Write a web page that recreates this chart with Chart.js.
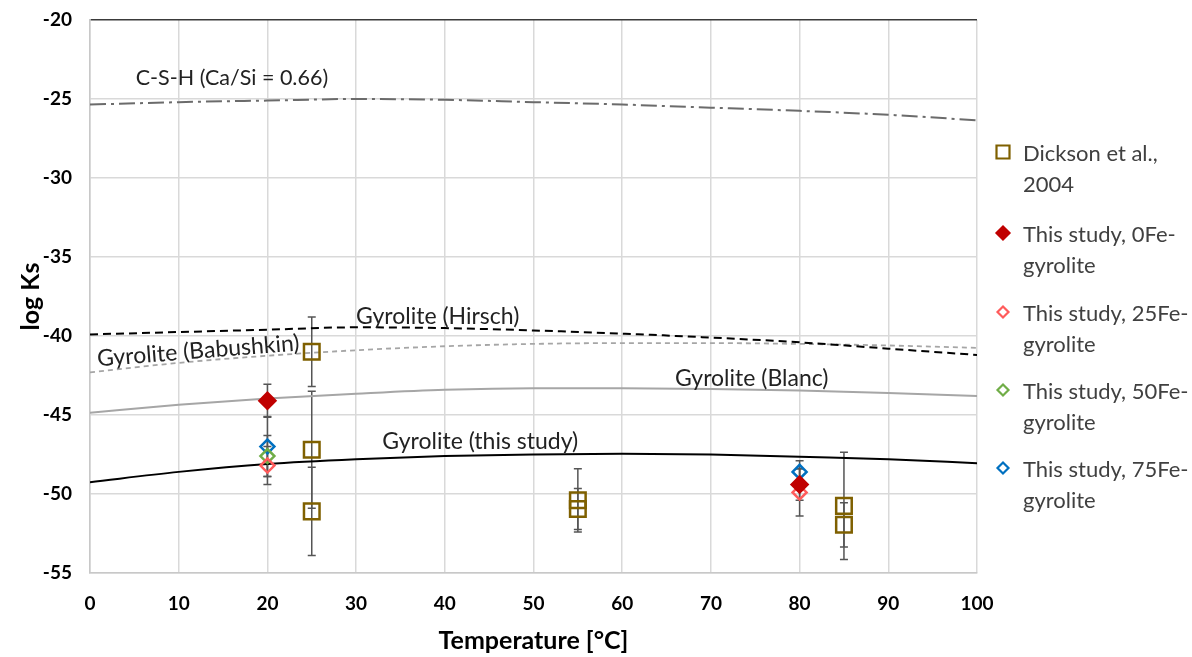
<!DOCTYPE html>
<html><head><meta charset="utf-8">
<script src="https://cdn.jsdelivr.net/npm/chart.js@4"></script>
<style>
html,body{margin:0;padding:0;background:#fff;}
#wrap{position:relative;width:1192px;height:657px;}
#legend{position:absolute;left:0;top:0;width:1192px;height:657px;pointer-events:none;font-family:Lato,"Open Sans",sans-serif;font-size:22px;color:#404040;}
.item{position:absolute;left:1023px;line-height:31px;white-space:nowrap;}
.mk{position:absolute;}
</style></head>
<body><div id="wrap"><canvas id="c" width="1192" height="657"></canvas><div id="legend"></div></div>
<script>
// ---- data ----
const lineT = [0,10,20,30,40,50,60,70,80,90,100];
const cshLogK = [-25.35,-25.2,-25.1,-25.0,-25.05,-25.2,-25.35,-25.55,-25.75,-26.0,-26.35];
const hirschLogK = [-39.9,-39.75,-39.6,-39.45,-39.5,-39.65,-39.85,-40.1,-40.4,-40.8,-41.2];
const babushkinLogK = [-42.3,-41.7,-41.25,-40.9,-40.65,-40.5,-40.45,-40.45,-40.5,-40.6,-40.75];
const blancLogK = [-44.85,-44.35,-43.95,-43.65,-43.4,-43.3,-43.3,-43.35,-43.45,-43.6,-43.8];
const thisStudyLogK = [-49.25,-48.6,-48.1,-47.8,-47.6,-47.5,-47.45,-47.5,-47.65,-47.8,-48.05];

const dicksonT = [25,25,25,55,55,85,85];
const dicksonLogK = [-41.0,-47.2,-51.1,-50.4,-50.95,-50.75,-51.95];
const dicksonErr = [2.2,3.7,2.8,2.0,1.3,3.4,1.4];

const fe0T = [20,80];   const fe0LogK = [-44.1,-49.4];  const fe0Err = [1.05,1.0];
const fe25T = [20,80];  const fe25LogK = [-48.2,-49.9]; const fe25Err = [1.2,1.5];
const fe50T = [20];     const fe50LogK = [-47.6];       const fe50Err = [1.3];
const fe75T = [20,80];  const fe75LogK = [-47.0,-48.6]; const fe75Err = [1.9,0.7];

const xTicks = [0,10,20,30,40,50,60,70,80,90,100];
const yTicks = [-55,-50,-45,-40,-35,-30,-25,-20];

// curve labels [text, T, logK, rotationDeg]
const curveLabels = [
  ["C-S-H (Ca/Si = 0.66)", 16, -23.65, 0],
  ["Gyrolite (Hirsch)", 39.2, -38.8, 0],
  ["Gyrolite (Babushkin)", 12.2, -40.95, -4.5],
  ["Gyrolite (Blanc)", 74.6, -42.7, 0],
  ["Gyrolite (this study)", 44.0, -46.7, 0]
];
const labelFontSizes = [21.5, 23, 23, 23, 23];
const legendNames = ["Dickson et al.,\n2004","This study, 0Fe-\ngyrolite","This study, 25Fe-\ngyrolite","This study, 50Fe-\ngyrolite","This study, 75Fe-\ngyrolite"];

// ---- build ----
const pts = (xs, ys) => xs.map((x,i)=>({x, y: ys[i]}));
function lineDs(ys, color, width, dash){
  return {type:'line', data: pts(lineT, ys), borderColor: color, borderWidth: width, borderDash: dash,
    pointRadius:0, showLine:true, fill:false, cubicInterpolationMode:'monotone', order:10};
}
function ptDs(label, xs, ys, errs, style, r, border, bg){
  return {type:'scatter', label, data: pts(xs, ys), errs, pointStyle: style, pointRadius: r,
    pointHoverRadius: r, borderColor: border, backgroundColor: bg, pointBorderWidth: 2.5, borderWidth: 2.5, order:0};
}
const pointSets = [
  ptDs(legendNames[0], dicksonT, dicksonLogK, dicksonErr, 'rect', 11, '#7f6000', 'rgba(0,0,0,0)'),
  ptDs(legendNames[1], fe0T, fe0LogK, fe0Err, 'rectRot', 8, '#c00000', '#c00000'),
  ptDs(legendNames[2], fe25T, fe25LogK, fe25Err, 'rectRot', 7, '#ff5b5b', 'rgba(0,0,0,0)'),
  ptDs(legendNames[3], fe50T, fe50LogK, fe50Err, 'rectRot', 7, '#70ad47', 'rgba(0,0,0,0)'),
  ptDs(legendNames[4], fe75T, fe75LogK, fe75Err, 'rectRot', 7, '#0070c0', 'rgba(0,0,0,0)')
];
const datasets = [
  lineDs(cshLogK, '#6b6b6b', 2, [16,5,3,5]),
  lineDs(hirschLogK, '#000000', 2, [8,5]),
  lineDs(babushkinLogK, '#a6a6a6', 1.8, [5,4]),
  lineDs(blancLogK, '#a6a6a6', 2, []),
  lineDs(thisStudyLogK, '#000000', 2, []),
  ...pointSets
];

const errPlugin = {
  id:'err',
  beforeDatasetsDraw(chart){
    const ctx = chart.ctx, ys = chart.scales.y, xs = chart.scales.x;
    ctx.save();
    ctx.strokeStyle = '#555'; ctx.lineWidth = 1.5;
    chart.data.datasets.forEach(ds=>{
      if(!ds.errs) return;
      ds.data.forEach((p,i)=>{
        const px = xs.getPixelForValue(p.x);
        const t = ys.getPixelForValue(p.y + ds.errs[i]);
        const b = ys.getPixelForValue(p.y - ds.errs[i]);
        ctx.beginPath();
        ctx.moveTo(px,t); ctx.lineTo(px,b);
        ctx.moveTo(px-4,t); ctx.lineTo(px+4,t);
        ctx.moveTo(px-4,b); ctx.lineTo(px+4,b);
        ctx.stroke();
      });
    });
    ctx.restore();
  }
};
const labelPlugin = {
  id:'lbl',
  afterDatasetsDraw(chart){
    const ctx = chart.ctx, ys = chart.scales.y, xs = chart.scales.x;
    ctx.save();
    ctx.fillStyle = '#222';
    ctx.textAlign = 'center'; ctx.textBaseline = 'middle';
    curveLabels.forEach(([t, x, y, rot], i)=>{
      ctx.save();
      ctx.font = labelFontSizes[i] + 'px Lato, "Open Sans", sans-serif';
      ctx.translate(xs.getPixelForValue(x), ys.getPixelForValue(y));
      ctx.rotate(rot*Math.PI/180);
      ctx.fillText(t, 0, 0);
      ctx.restore();
    });
    ctx.restore();
  }
};

new Chart(document.getElementById('c'), {
  type:'scatter',
  data:{datasets},
  plugins:[errPlugin, labelPlugin],
  options:{
    responsive:false, animation:false,
    layout:{padding:{top:20,right:215,left:0,bottom:0}},
    plugins:{legend:{display:false}, tooltip:{enabled:false}},
    scales:{
      x:{type:'linear', min:0, max:100,
        afterBuildTicks: s => { s.ticks = xTicks.map(v=>({value:v})); },
        afterFit: s => { s.height = 84; },
        grid:{color:'#d9d9d9', lineWidth:1.5, drawTicks:false},
        border:{color:'#c8c8c8', width:1.5},
        ticks:{padding:19, color:'#000', font:{family:'Lato', size:19, weight:'bold'}},
        title:{display:true, text:'Temperature [°C]', color:'#000', font:{family:'Lato', size:25, weight:'bold'}, padding:{top:4, bottom:1}}
      },
      y:{type:'linear', min:-55, max:-20,
        afterBuildTicks: s => { s.ticks = yTicks.map(v=>({value:v})); },
        afterFit: s => { s.width = 90; s.paddingTop = 0; s.paddingBottom = 0; },
        grid:{color: c => c.tick && c.tick.value === -20 ? '#3a3a3a' : '#d9d9d9', lineWidth:1.5, drawTicks:false},
        border:{color:'#c8c8c8', width:1.5},
        ticks:{padding:18, color:'#000', font:{family:'Lato', size:19, weight:'bold'}},
        title:{display:true, text:'log Ks', color:'#000', font:{family:'Lato', size:25, weight:'bold'}, padding:{bottom:0, top:16}}
      }
    }
  }
});

// HTML legend (two-line names)
const lg = document.getElementById('legend');
const centers = [152,233,312,390,468];
pointSets.forEach((ds,i)=>{
  const d = document.createElement('div');
  d.className='item';
  d.style.top = (centers[i]-15.5)+'px';
  d.innerHTML = ds.label.split('\n').join('<br>');
  lg.appendChild(d);
  const m = document.createElement('canvas');
  m.className='mk'; m.width=20; m.height=20;
  m.style.left=(1003-10)+'px'; m.style.top=(centers[i]-10)+'px';
  const c = m.getContext('2d');
  c.lineWidth = 2.2; c.strokeStyle = ds.borderColor; c.fillStyle = ds.backgroundColor;
  c.beginPath();
  if(ds.pointStyle==='rect'){ c.rect(3.5,3.5,13,13); }
  else { const r = ds.pointRadius===8?6.5:5.5; c.moveTo(10,10-r); c.lineTo(10+r,10); c.lineTo(10,10+r); c.lineTo(10-r,10); c.closePath(); }
  c.fill(); c.stroke();
  lg.appendChild(m);
});
</script>
</body></html>
